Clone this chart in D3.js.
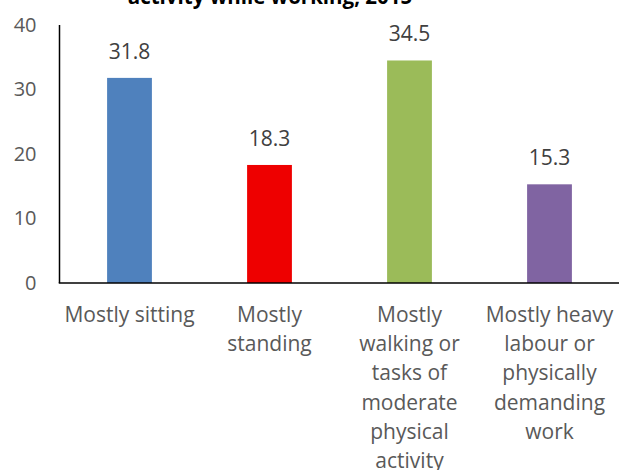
<!DOCTYPE html>
<html>
<head>
<meta charset="utf-8">
<script src="https://cdn.jsdelivr.net/npm/d3@7/dist/d3.min.js"></script>
<style>
  html, body { margin: 0; padding: 0; background: #fff; }
  svg { display: block; }
</style>
</head>
<body>
<svg id="chart" width="619" height="470"></svg>
<script>
const categories = ["Mostly sitting", "Mostly standing", "Mostly walking or tasks of moderate physical activity", "Mostly heavy labour or physically demanding work"];
const categoryLines = [
  ["Mostly sitting"],
  ["Mostly", "standing"],
  ["Mostly", "walking or", "tasks of", "moderate", "physical", "activity"],
  ["Mostly heavy", "labour or", "physically", "demanding", "work"]
];
const values = [31.8, 18.3, 34.5, 15.3];
const colors = ["#4F81BD", "#EE0000", "#9BBB59", "#8064A2"];
const yTicks = [0, 10, 20, 30, 40];
const title = "activity while working, 2015";

(function () {
const svg = d3.select("#chart");
const font = "'Open Sans', sans-serif";

const plotLeft = 59.5, plotRight = 619.5, plotTop = 25, plotBottom = 283;

const x = d3.scaleBand().domain(categories).range([plotLeft, plotRight]).paddingInner(0.68).paddingOuter(0.34);
const y = d3.scaleLinear().domain([0, 40]).range([plotBottom, plotTop]);

// title (partially cropped at top, as in the reference)
svg.append("text")
  .attr("x", 270).attr("y", 4)
  .attr("text-anchor", "middle")
  .attr("font-family", font).attr("font-weight", "bold")
  .attr("font-size", 20.5).attr("fill", "#000")
  .text(title);

// y axis tick labels
const yAxis = d3.axisLeft(y).tickValues(yTicks).tickSize(0).tickPadding(23).tickFormat(d3.format("d"));
const gy = svg.append("g").attr("transform", `translate(${plotLeft},0)`).call(yAxis);
gy.select(".domain").remove();
gy.selectAll("text").attr("font-family", font).attr("font-size", 20).attr("fill", "#595959");

// bars
svg.append("g").selectAll("rect").data(values).join("rect")
  .attr("x", (d, i) => x(categories[i]))
  .attr("y", d => y(d))
  .attr("width", x.bandwidth())
  .attr("height", d => y(0) - y(d))
  .attr("fill", (d, i) => colors[i]);

// value labels
svg.append("g").selectAll("text").data(values).join("text")
  .attr("x", (d, i) => x(categories[i]) + x.bandwidth() / 2)
  .attr("y", d => y(d) - 19)
  .attr("text-anchor", "middle")
  .attr("font-family", font).attr("font-size", 21).attr("fill", "#404040")
  .text(d => d.toFixed(1));

// axis lines
svg.append("line").attr("x1", plotLeft).attr("x2", plotLeft).attr("y1", plotTop).attr("y2", plotBottom)
  .attr("stroke", "#000").attr("stroke-width", 1.5);
svg.append("line").attr("x1", plotLeft - 0.75).attr("x2", 619).attr("y1", plotBottom).attr("y2", plotBottom)
  .attr("stroke", "#000").attr("stroke-width", 1.5);

// category labels
const lineH = 29.2;
const cl = svg.append("g").selectAll("text").data(categoryLines).join("text")
  .attr("text-anchor", "middle")
  .attr("font-family", font).attr("font-size", 21).attr("fill", "#595959");
cl.each(function (lines, i) {
  const cx = x(categories[i]) + x.bandwidth() / 2;
  d3.select(this).selectAll("tspan").data(lines).join("tspan")
    .attr("x", cx)
    .attr("y", (l, j) => 322 + j * lineH)
    .text(l => l);
});
})();
</script>
</body>
</html>
